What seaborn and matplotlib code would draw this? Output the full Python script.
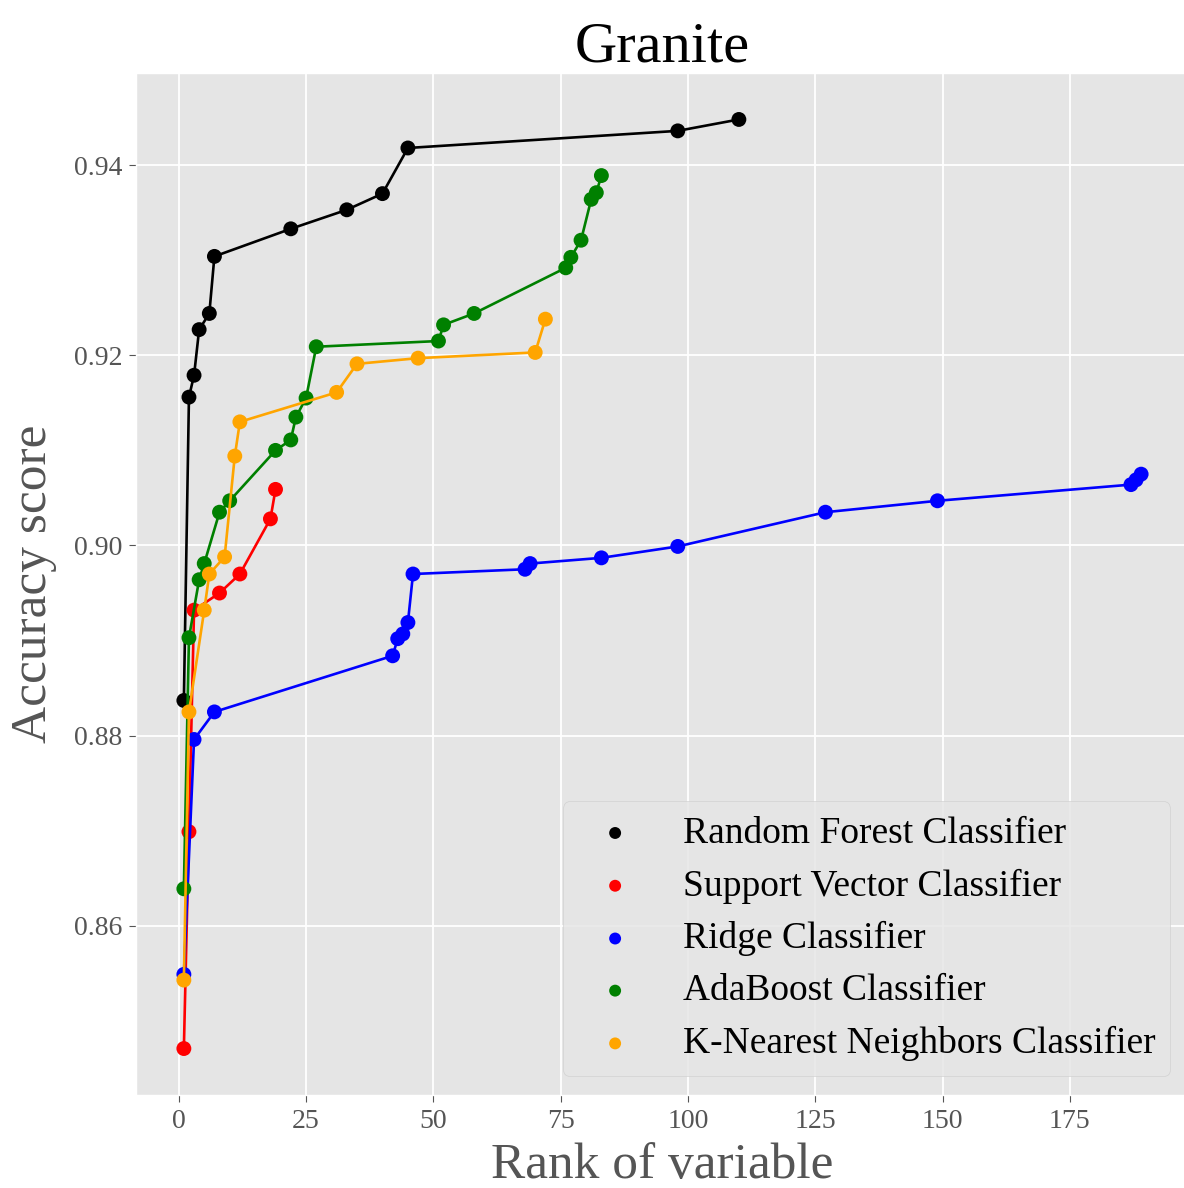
import matplotlib
matplotlib.use("Agg")
import matplotlib.pyplot as plt
import seaborn as sns
import pandas as pd

# Accuracy vs. number of top-ranked variables kept, per classifier
models = ["Random Forest Classifier", "Support Vector Classifier", "Ridge Classifier",
          "AdaBoost Classifier", "K-Nearest Neighbors Classifier"]
colors = ["black", "red", "blue", "green", "orange"]

rf_rank = [1, 2, 3, 4, 6, 7, 22, 33, 40, 45, 98, 110]
rf_acc = [0.8837, 0.9156, 0.9179, 0.9227, 0.9244, 0.9304, 0.9333, 0.9353, 0.9370,
          0.9418, 0.9436, 0.9448]

svc_rank = [1, 2, 3, 8, 12, 18, 19]
svc_acc = [0.8471, 0.8699, 0.8932, 0.8950, 0.8970, 0.9028, 0.9059]

ridge_rank = [1, 3, 7, 42, 43, 44, 45, 46, 68, 69, 83, 98, 127, 149, 187, 188, 189]
ridge_acc = [0.8549, 0.8796, 0.8825, 0.8884, 0.8902, 0.8907, 0.8919, 0.8970, 0.8975,
             0.8981, 0.8987, 0.8999, 0.9035, 0.9047, 0.9064, 0.9069, 0.9075]

ada_rank = [1, 2, 4, 5, 8, 10, 19, 22, 23, 25, 27, 51, 52, 58, 76, 77, 79, 81, 82, 83]
ada_acc = [0.8639, 0.8903, 0.8964, 0.8981, 0.9035, 0.9047, 0.9100, 0.9111, 0.9135,
           0.9155, 0.9209, 0.9215, 0.9232, 0.9244, 0.9292, 0.9303, 0.9321, 0.9364,
           0.9371, 0.9389]

knn_rank = [1, 2, 5, 6, 9, 11, 12, 31, 35, 47, 70, 72]
knn_acc = [0.8543, 0.8825, 0.8932, 0.8970, 0.8988, 0.9094, 0.9130, 0.9161, 0.9191,
           0.9197, 0.9203, 0.9238]

ranks = [rf_rank, svc_rank, ridge_rank, ada_rank, knn_rank]
accs = [rf_acc, svc_acc, ridge_acc, ada_acc, knn_acc]

plt.style.use("ggplot")
plt.rcParams["font.family"] = ["Liberation Serif", "DejaVu Serif"]

fig = plt.figure(figsize=(11.84, 11.88), dpi=100)
ax = fig.add_axes([136 / 1184, 1 - 1095 / 1188, (1189 - 136) / 1184, (1095 - 73) / 1188])

for i, (name, col, xs, ys) in enumerate(zip(models, colors, ranks, accs)):
    df = pd.DataFrame({"rank": xs, "acc": ys})
    sns.lineplot(data=df, x="rank", y="acc", color=col, linewidth=1.9,
                 estimator=None, sort=False, legend=False, ax=ax, zorder=3 + 2 * i)
    sns.scatterplot(data=df, x="rank", y="acc", color=col, s=115, edgecolor="none",
                    linewidth=0, label=name, ax=ax, zorder=4 + 2 * i)

ax.set_title("Granite", fontsize=42, pad=8)
ax.set_xlabel("Rank of variable", fontsize=37, labelpad=6)
ax.set_ylabel("Accuracy score", fontsize=37, labelpad=12)
ax.set_xticks([0, 25, 50, 75, 100, 125, 150, 175])
ax.set_yticks([0.86, 0.88, 0.90, 0.92, 0.94])
ax.set_yticklabels(["0.86", "0.88", "0.90", "0.92", "0.94"])
ax.tick_params(axis="both", labelsize=20, length=5, pad=5)
ax.grid(True, color="white", linewidth=1.3)

ax.legend(loc="lower right", fontsize=27, markerscale=0.8, labelspacing=0.47)

fig.savefig("out.png", dpi=100)
